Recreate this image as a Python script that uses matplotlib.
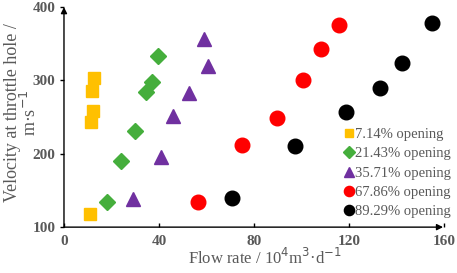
import matplotlib.pyplot as plt

# values
sq_x = [10.9, 11.4, 12.1, 11.7, 12.8]
sq_y = [118, 243, 258, 286, 303]
dia_x = [18.2, 24.0, 30.0, 34.4, 37.2, 39.7]
dia_y = [134, 190, 231, 284, 298, 334]
tri_x = [29.2, 41.0, 46.0, 52.8, 60.8, 59.0]
tri_y = [138, 195, 252, 283, 320, 356]
red_x = [56.5, 75.1, 89.5, 100.4, 108.0, 115.6]
red_y = [134, 212, 249, 300, 343, 376]
blk_x = [70.5, 97.3, 118.7, 132.8, 142.4, 154.7]
blk_y = [140, 211, 257, 290, 324, 378]

labels = ["7.14% opening", "21.43% opening", "35.71% opening",
          "67.86% opening", "89.29% opening"]

plt.rcParams["font.family"] = ["Liberation Serif", "DejaVu Serif"]
grey = "#595959"

fig = plt.figure(figsize=(4.57, 2.73), dpi=100)
ax = fig.add_axes([0.140, 0.168, 0.832, 0.806])

ax.plot(sq_x, sq_y, "s", color="#FFC000", ms=9, label=labels[0])
ax.plot(dia_x, dia_y, "D", color="#45AE3C", ms=8.3, label=labels[1])
ax.plot(tri_x, tri_y, "^", color="#7030A0", ms=10, label=labels[2])
ax.plot(red_x, red_y, "o", color="#FF0000", ms=10.5, label=labels[3])
ax.plot(blk_x, blk_y, "o", color="black", ms=10.5, label=labels[4])

ax.set_xlim(0, 160)
ax.set_ylim(100, 400)
ax.set_xticks([0, 40, 80, 120, 160])
ax.set_yticks([100, 200, 300, 400])
for s in ["top", "right", "left", "bottom"]:
    ax.spines[s].set_visible(False)

# axis lines with arrow heads
ax.annotate("", xy=(0, 1.0), xytext=(0, 0), xycoords="axes fraction",
            arrowprops=dict(arrowstyle="-|>", color="black", lw=1.0,
                            mutation_scale=9, shrinkA=0, shrinkB=0))
ax.annotate("", xy=(0.997, 0), xytext=(0, 0), xycoords="axes fraction",
            arrowprops=dict(arrowstyle="-|>", color="black", lw=1.0,
                            mutation_scale=9, shrinkA=0, shrinkB=0))

ax.tick_params(axis="x", direction="in", length=3, width=1, pad=6,
               labelsize=11, labelcolor=grey)
ax.tick_params(axis="y", direction="out", length=3, width=1, pad=3,
               labelsize=11, labelcolor=grey)
for t in ax.get_xticklabels() + ax.get_yticklabels():
    t.set_fontweight("bold")

ax.set_xlabel("Flow rate / 10$^{4}$m$^{3}$·d$^{-1}$", fontsize=12,
              color=grey)
ax.xaxis.set_label_coords(0.53, -0.095)
# y label is two lines; the unit line sits between the 200 and 300 ticks
ax.set_ylabel("Velocity at throttle hole /", fontsize=13, color=grey)
ax.yaxis.set_label_coords(-0.112, 0.52)
ax.text(-0.062, 0.52, "m·s$^{-1}$", transform=ax.transAxes, fontsize=13,
        color=grey, rotation=90, ha="right", va="center")

leg = ax.legend(loc="lower right", bbox_to_anchor=(1.04, 0.0), frameon=False,
                fontsize=10.5, markerscale=0.7, handlelength=0.6,
                handletextpad=0.1, labelspacing=0.42, borderaxespad=0.2)
for t in leg.get_texts():
    t.set_color(grey)

fig.savefig("out.png", dpi=100)
